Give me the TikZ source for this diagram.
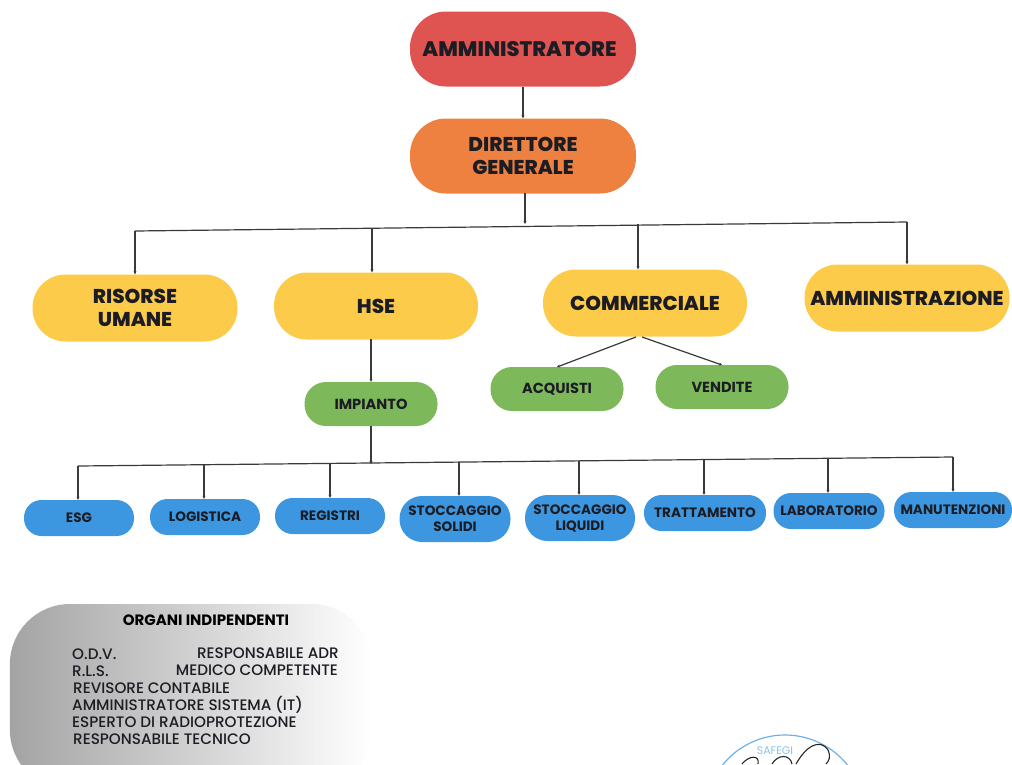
\documentclass[tikz,border=0pt]{standalone}
\usepackage{fontspec}
\setmainfont{Poppins}
\newfontfamily\heavy{Poppins ExtraBold}
\newfontfamily\medfont{Poppins Medium}
\usetikzlibrary{arrows.meta,fadings}
\definecolor{redbox}{HTML}{DF5350}
\definecolor{orangebox}{HTML}{EE8140}
\definecolor{yellowbox}{HTML}{FDCB4A}
\definecolor{greenbox}{HTML}{7DB95A}
\definecolor{bluebox}{HTML}{3D97E0}
\definecolor{ink}{HTML}{1C1C24}
\definecolor{wire}{HTML}{3A3A3A}
\tikzset{x=1pt,y=-1pt,
 pill/.style={rounded corners=#1,inner sep=0pt,align=center,text=ink},
 top/.style={pill=36pt,minimum width=226pt,minimum height=75pt,font=\fontsize{20}{22.5}\heavy},
 dept/.style={fill=yellowbox,pill=33pt,minimum height=67pt,font=\fontsize{20}{23}\heavy},
 sub/.style={fill=greenbox,pill=21.5pt,minimum height=44pt,font=\fontsize{14.6}{17}\bfseries},
 unit/.style={fill=bluebox,pill=17.5pt,minimum width=110pt,minimum height=36pt,font=\fontsize{13.6}{16}\bfseries},
 tall/.style={pill=22.5pt,minimum height=46pt},
 wired/.style={draw=wire,line width=1.2pt},
 wiredarrow/.style={wired,-{Stealth[length=3pt,width=3pt]}},
 plain/.style={inner sep=0pt,anchor=west,font=\fontsize{15.2}{17}\medfont,text=ink}}
\begin{document}
\begin{tikzpicture}[x=1pt,y=-1pt]
\useasboundingbox (0,0) rectangle (1012,764);
\node[top,fill=redbox,font=\fontsize{21}{23}\heavy] (adm) at (523,49) {\hspace*{-7pt}AMMINISTRATORE};
\node[top,fill=orangebox] (dg) at (523,156) {DIRETTORE\\GENERALE};
\node[dept,minimum width=205pt] (hr) at (135,308) {RISORSE\\UMANE};
\node[dept,minimum width=204pt] (hse) at (376,306) {HSE};
\node[dept,minimum width=204pt] (com) at (645,303) {COMMERCIALE};
\node[dept,minimum width=205pt] (amm) at (907,298) {AMMINISTRAZIONE};
\node[sub,minimum width=133pt] (acq) at (557,389) {ACQUISTI};
\node[sub,minimum width=133pt] (ven) at (722,387) {VENDITE};
\node[sub,minimum width=133pt] (imp) at (371,404) {IMPIANTO};
\node[unit] (esg) at (79,518) {ESG};
\node[unit] (log) at (205,517) {LOGISTICA};
\node[unit] (reg) at (330,516) {REGISTRI};
\node[unit,tall,minimum width=111pt] (sso) at (455,519) {STOCCAGGIO\\SOLIDI};
\node[unit,tall] (sli) at (580,518) {STOCCAGGIO\\LIQUIDI};
\node[unit,minimum width=122pt] (tra) at (705,513) {TRATTAMENTO};
\node[unit,minimum width=111pt] (lab) at (829,511) {LABORATORIO};
\node[unit,minimum width=118pt] (man) at (953,510) {MANUTENZIONI};
% connectors
\draw[wiredarrow] (adm.south) -- (dg.north);
\coordinate (d0) at (525,193);
\coordinate (j1) at (525,224);
\coordinate (h1) at (135,231);
\coordinate (h2) at (372,228);
\coordinate (h3) at (638,224);
\coordinate (h4) at (907,222);
\draw[wiredarrow] (d0) -- (j1);
\draw[wired] (h1) -- (h4);
\draw[wiredarrow] (h1) -- (h1 |- hr.north);
\draw[wiredarrow] (h2) -- (h2 |- hse.north);
\draw[wiredarrow] (h3) -- (h3 |- com.north);
\draw[wiredarrow] (h4) -- (h4 |- amm.north);
\coordinate (s0) at (371,339);
\draw[wiredarrow] (s0) -- (s0 |- imp.north);
\coordinate (c1) at (636,337);
\coordinate (c2) at (642,337);
\coordinate (a1) at (557,367);
\coordinate (a2) at (722,365);
\draw[wiredarrow] (c1) -- (a1);
\draw[wiredarrow] (c2) -- (a2);
\coordinate (j2) at (371,464);
\draw[wiredarrow] (imp.south) -- (j2);
\coordinate (v1) at (78,466);
\coordinate (v2) at (204,465);
\coordinate (v3) at (330,464);
\coordinate (v4) at (459,462);
\coordinate (v5) at (579,461);
\coordinate (v6) at (704,460);
\coordinate (v7) at (828,458);
\coordinate (v8) at (953,457);
\draw[wired] (v1) -- (v8);
\foreach \a/\b in {v1/esg,v2/log,v3/reg,v4/sso,v5/sli,v6/tra,v7/lab,v8/man}
  \draw[wiredarrow] (\a) -- (\a |- \b.north);
% grey panel
\fill[black!36,path fading=east,rounded corners=60pt] (10,604) rectangle (372,790);
\node[font=\fontsize{15}{17}\bfseries,text=black] (oi) at (206,620) {ORGANI INDIPENDENTI};
\node[plain] (t1) at (72,654) {O.D.V.};
\node[plain,anchor=east] (t1b) at (339,653) {RESPONSABILE ADR};
\node[plain] (t2) at (72,671) {R.L.S.};
\node[plain,anchor=east] (t2b) at (338,670) {MEDICO COMPETENTE};
\node[plain] (t3) at (73,688) {REVISORE CONTABILE};
\node[plain] (t4) at (72,705) {AMMINISTRATORE SISTEMA (IT)};
\node[plain] (t5) at (72,722) {ESPERTO DI RADIOPROTEZIONE};
\node[plain] (t6) at (73,739) {RESPONSABILE TECNICO};
% stamp fragment
\begin{scope}
\clip (680,720) rectangle (940,764);
\draw[draw=bluebox!75,line width=1.2pt] (785,815) circle (80pt);
\node[font=\fontsize{11}{13}\selectfont,text=bluebox!60] (sf) at (775,751) {SAFEGI};
\draw[black!85,line width=1.1pt] (742,764) .. controls (748,756) and (760,754) .. (758,764);
\draw[black!85,line width=1.1pt] (772,764) .. controls (778,754) and (790,754) .. (792,764);
\draw[black!85,line width=1.1pt] (796,764) .. controls (806,746) and (820,738) .. (828,750) .. controls (831,757) and (829,761) .. (826,764);
\end{scope}
\end{tikzpicture}
\end{document}
